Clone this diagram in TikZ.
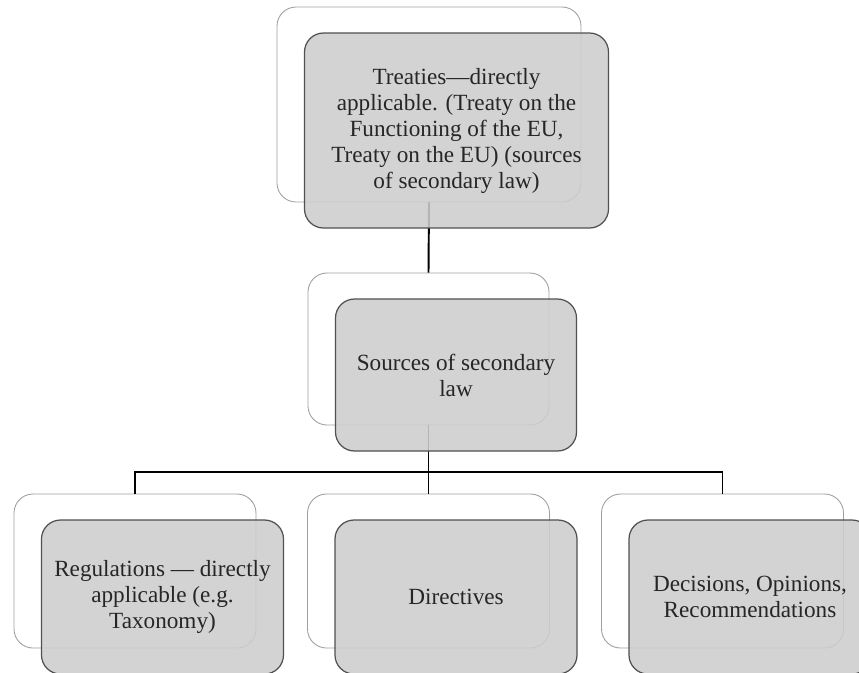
\documentclass[tikz,border=0pt]{standalone}
\usepackage{fontspec}
\setmainfont{Liberation Serif}
\usepackage{tikz}
\usetikzlibrary{positioning, calc}
\definecolor{boxgray}{RGB}{205,205,205}
\definecolor{rimgray}{RGB}{160,160,160}
\definecolor{edgegray}{RGB}{80,80,80}

\begin{document}
\begin{tikzpicture}
[back/.style={rectangle, rounded corners=0.38cm, draw=rimgray, fill=white, line width=0.5pt},
 front/.style={rectangle, rounded corners=0.38cm, draw=edgegray, fill=boxgray, fill opacity=0.88,
   text opacity=1, text=black!85, line width=0.7pt, align=center,
   font=\fontsize{13.2}{14.8}\selectfont},
 link/.style={draw=black, line width=1.1pt},
 every text node part/.style={align=center}]

\useasboundingbox (0,0) rectangle (17.18,-13.44);

% back frames
\node[back, minimum width=6.08cm, minimum height=3.9cm] (T) at (8.58,-2.09) {};
\node[back, minimum width=4.82cm, minimum height=3.04cm] (S) at (8.57,-6.98) {};
\node[back, minimum width=4.84cm, minimum height=3.08cm] (R) at (2.7,-11.42) {};
\node[back, minimum width=4.84cm, minimum height=3.08cm] (D) at (8.57,-11.42) {};
\node[back, minimum width=4.84cm, minimum height=3.08cm] (O) at (14.45,-11.42) {};

% connectors
\coordinate (bus) at (8.57,-9.44);
\draw[link] (T.south) -- (S.north);
\draw[link] (S.south) -- (bus);
\draw[link] (R.north) |- (bus) -| (O.north);
\draw[link] (bus) -- (D.north);

% front boxes with the texts
\node[front, minimum width=6.08cm, minimum height=3.9cm] (Tf) at ($(T)+(0.55,-0.52)$)
  {Treaties---directly\\ applicable. (Treaty on the\\ Functioning of the EU,\\ Treaty on the EU) (sources\\ of secondary law)};
\node[front, minimum width=4.82cm, minimum height=3.04cm] (Sf) at ($(S)+(0.55,-0.52)$)
  {Sources of secondary\\ law};
\node[front, minimum width=4.84cm, minimum height=3.08cm] (Rf) at ($(R)+(0.55,-0.52)$)
  {Regulations --- directly\\ applicable (e.g.\\ Taxonomy)};
\node[front, minimum width=4.84cm, minimum height=3.08cm] (Df) at ($(D)+(0.55,-0.52)$)
  {Directives};
\node[front, minimum width=4.84cm, minimum height=3.08cm] (Of) at ($(O)+(0.55,-0.52)$)
  {Decisions, Opinions,\\ Recommendations};

\end{tikzpicture}
\end{document}
